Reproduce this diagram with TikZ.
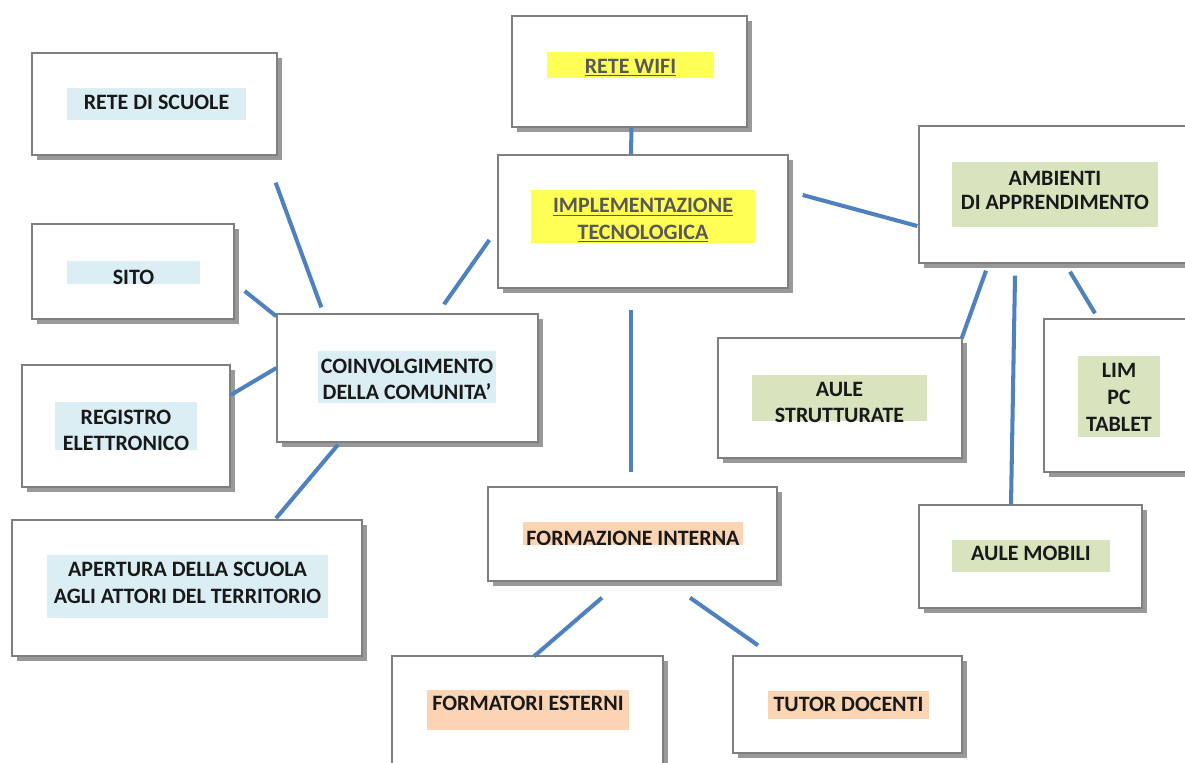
\documentclass[tikz,border=0pt]{standalone}
\usepackage{fontspec}
\setmainfont{Carlito}
\usepackage{xcolor}
\usetikzlibrary{shadows}

\definecolor{linkblue}{HTML}{4F81BD}
\definecolor{hlblue}{HTML}{DAEEF3}
\definecolor{hlyellow}{HTML}{FFFF55}
\definecolor{hlgreen}{HTML}{D7E4BD}
\definecolor{hlorange}{HTML}{FBD4B4}
\definecolor{boxgray}{HTML}{7F7F7F}
\definecolor{txtgray}{HTML}{595959}

\begin{document}
\begin{tikzpicture}[x=0.02cm, y=-0.02cm,
      box/.style={rectangle, draw=boxgray, line width=0.8pt, fill=white,
        drop shadow={shadow xshift=0.1cm, shadow yshift=-0.1cm, fill=black!40, opacity=1}},
      hl/.style={rectangle, inner sep=0pt},
      lbl/.style={inner sep=0pt, align=center, text=black!90,
        font=\fontsize{12.5}{15.2}\selectfont\bfseries},
      lblu/.style={lbl, text=txtgray},
      link/.style={draw=linkblue, line width=2.3pt}]

      \clip (0,0) rectangle (1185,762);
      \fill [white] (0,0) rectangle (1185,762);

      % Boxes
      \node [box, minimum width=4.70cm, minimum height=2.22cm] (wifi) at (629.5,71.5) {};
      \node [box, minimum width=5.80cm, minimum height=2.66cm] (impl) at (643,221.5) {};
      \node [box, minimum width=4.90cm, minimum height=2.04cm] (scuole) at (154.5,104) {};
      \node [box, minimum width=4.04cm, minimum height=1.90cm] (sito) at (133,271.5) {};
      \node [box, minimum width=5.22cm, minimum height=2.56cm] (coinv) at (407.5,378) {};
      \node [box, minimum width=4.16cm, minimum height=2.44cm] (registro) at (126,426) {};
      \node [box, minimum width=7.00cm, minimum height=2.72cm] (apertura) at (187,588) {};
      \node [box, minimum width=5.44cm, minimum height=2.74cm] (ambienti) at (1055,194.5) {};
      \node [box, minimum width=4.88cm, minimum height=2.40cm] (aulestr) at (840,398) {};
      \node [box, minimum width=3.00cm, minimum height=3.06cm] (lim) at (1119,395.5) {};
      \node [box, minimum width=4.46cm, minimum height=2.06cm] (mobili) at (1030.5,556.5) {};
      \node [box, minimum width=5.78cm, minimum height=1.88cm] (formint) at (632.5,534) {};
      \node [box, minimum width=5.42cm, minimum height=2.40cm] (formest) at (527.5,716) {};
      \node [box, minimum width=4.58cm, minimum height=1.94cm] (tutor) at (847.5,704.5) {};

      % Highlights
      \node [hl, fill=hlyellow, minimum width=3.34cm, minimum height=0.52cm] (wifi-h) at (630.5,65) {};
      \node [hl, fill=hlyellow, minimum width=4.48cm, minimum height=1.06cm] (impl-h) at (643,216.5) {};
      \node [hl, fill=hlblue, minimum width=3.58cm, minimum height=0.64cm] (scuole-h) at (156.5,104) {};
      \node [hl, fill=hlblue, minimum width=2.66cm, minimum height=0.46cm] (sito-h) at (133.5,272.5) {};
      \node [hl, fill=hlblue, minimum width=3.56cm, minimum height=1.04cm] (coinv-h) at (407,377) {};
      \node [hl, fill=hlblue, minimum width=2.84cm, minimum height=0.96cm] (registro-h) at (126,426) {};
      \node [hl, fill=hlblue, minimum width=5.62cm, minimum height=1.26cm] (apertura-h) at (187.5,586.5) {};
      \node [hl, fill=hlgreen, minimum width=4.12cm, minimum height=1.30cm] (ambienti-h) at (1055,194.5) {};
      \node [hl, fill=hlgreen, minimum width=3.50cm, minimum height=0.92cm] (aulestr-h) at (839.5,398) {};
      \node [hl, fill=hlgreen, minimum width=1.64cm, minimum height=1.62cm] (lim-h) at (1119,396.5) {};
      \node [hl, fill=hlgreen, minimum width=3.16cm, minimum height=0.64cm] (mobili-h) at (1031,556) {};
      \node [hl, fill=hlorange, minimum width=4.40cm, minimum height=0.46cm] (formint-h) at (633,533.5) {};
      \node [hl, fill=hlorange, minimum width=4.04cm, minimum height=0.80cm] (formest-h) at (528,710) {};
      \node [hl, fill=hlorange, minimum width=3.22cm, minimum height=0.56cm] (tutor-h) at (848.5,704.5) {};

      % Texts
      \node [lblu] (wifi-l) at ([shift={(0,3)}]wifi-h) {\underline{RETE WIFI}};
      \node [lblu] (impl-l) at ([shift={(0,4)}]impl-h) {\underline{IMPLEMENTAZIONE}\\\underline{TECNOLOGICA}};
      \node [lbl] (scuole-l) at ([shift={(0,-2)}]scuole-h) {RETE DI SCUOLE};
      \node [lbl] (sito-l) at ([shift={(0,5)}]sito-h) {SITO};
      \node [lbl] (coinv-l) at ([shift={(0,2.5)}]coinv-h) {COINVOLGIMENTO\\DELLA COMUNITA’};
      \node [lbl] (registro-l) at ([shift={(0,4.5)}]registro-h) {REGISTRO\\ELETTRONICO};
      \node [lbl] (apertura-l) at ([shift={(0,-3.5)}]apertura-h) {APERTURA DELLA SCUOLA\\AGLI ATTORI DEL TERRITORIO};
      \node [lbl, font=\fontsize{12.5}{13.6}\selectfont\bfseries] (ambienti-l) at ([shift={(0,-4)}]ambienti-h) {AMBIENTI\\DI APPRENDIMENTO};
      \node [lbl] (aulestr-l) at ([shift={(0,4.5)}]aulestr-h) {AULE\\STRUTTURATE};
      \node [lbl] (lim-l) at ([shift={(0,1)}]lim-h) {LIM\\PC\\TABLET};
      \node [lbl] (mobili-l) at ([shift={(0,-3)}]mobili-h) {AULE MOBILI};
      \node [lbl] (formint-l) at ([shift={(0,4.5)}]formint-h) {FORMAZIONE INTERNA};
      \node [lbl] (formest-l) at ([shift={(0,-7)}]formest-h) {FORMATORI ESTERNI};
      \node [lbl] (tutor-l) at (tutor-h) {TUTOR DOCENTI};

      % Edges
      \path [link] ([shift={(2,0)}]wifi.south) -- ([shift={(-12,0)}]impl.north);
      \path [link] ([shift={(14,-26.5)}]impl.east) -- ([shift={(-1,31.5)}]ambienti.west);
      \path [link] ([shift={(-8,18.5)}]impl.west) -- ([shift={(36.5,-9)}]coinv.north);
      \path [link] ([shift={(-2,27)}]scuole.south east) -- ([shift={(45,-6)}]coinv.north west);
      \path [link] ([shift={(10,19.5)}]sito.east) -- ([shift={(0,3)}]coinv.north west);
      \path [link] ([shift={(0,-31)}]registro.east) -- ([shift={(0,-10)}]coinv.west);
      \path [link] ([shift={(-69.5,2)}]coinv.south) -- ([shift={(89,-1)}]apertura.north);
      \path [link] ([shift={(-12,21)}]impl.south) -- ([shift={(-1.5,-14)}]formint.north);
      \path [link] ([shift={(-30.5,16)}]formint.south) -- ([shift={(6.5,1)}]formest.north);
      \path [link] ([shift={(57.5,16)}]formint.south) -- ([shift={(-89.5,-10)}]tutor.north);
      \path [link] ([shift={(-69,7)}]ambienti.south) -- ([shift={(-1,1)}]aulestr.north east);
      \path [link] ([shift={(-40,12)}]ambienti.south) -- ([shift={(-19.5,0)}]mobili.north);
      \path [link] ([shift={(15,8)}]ambienti.south) -- ([shift={(-24,-5)}]lim.north);

\end{tikzpicture}
\end{document}
